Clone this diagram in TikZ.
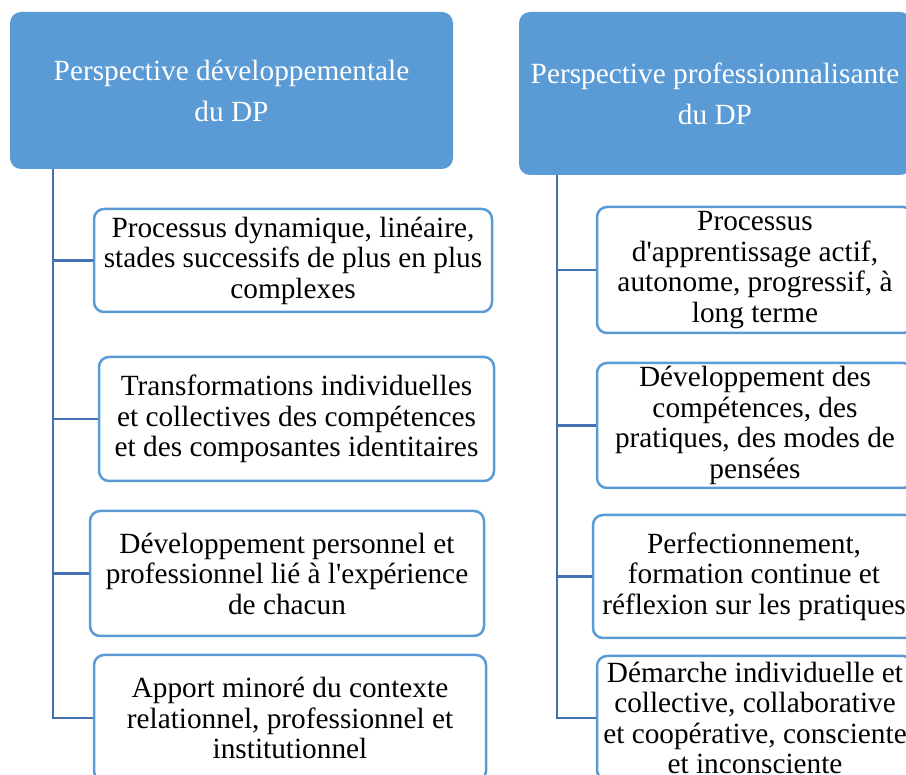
\documentclass[tikz,border=0pt]{standalone}
\usepackage{fontspec}
\setmainfont{Liberation Serif}[Ligatures=TeXOff]
\definecolor{hdr}{RGB}{91,155,213}
\definecolor{bord}{RGB}{91,155,213}
\definecolor{conn}{RGB}{68,114,176}
\begin{document}
\begin{tikzpicture}[x=1pt,y=-1pt,
 head/.style={fill=hdr, draw=none, rounded corners=11pt, text=white, align=center, inner sep=0pt, font=\fontsize{29.3}{41}\selectfont},
 item/.style={draw=bord, line width=2.5pt, fill=white, rounded corners=10pt, align=center, inner sep=0pt, font=\fontsize{29.3}{30.5}\selectfont},
 link/.style={draw=conn, line width=2.8pt}]
\useasboundingbox (0,0) rectangle (906,775);
\clip (0,0) rectangle (906,775);
% headers
\node[head, minimum width=443pt, minimum height=157pt] (h1) at (231.5,90.5) {Perspective développementale\\du DP};
\node[head, minimum width=392pt, minimum height=163pt] (h2) at (715,93.5) {Perspective professionnalisante\\du DP};
% trunk coordinates
\coordinate (t1) at (53,0);
\coordinate (t2) at (557,0);
% left items
\node[item, minimum width=398pt, minimum height=103pt] (l1) at (293,260.5) {Processus dynamique, linéaire,\\stades successifs de plus en plus\\complexes};
\node[item, minimum width=395pt, minimum height=124pt] (l2) at (296.5,419) {Transformations individuelles\\et collectives des compétences\\et des composantes identitaires};
\node[item, minimum width=394pt, minimum height=125pt] (l3) at (287,573.5) {Développement personnel et\\professionnel lié à l'expérience\\de chacun};
\node[item, minimum width=392pt, minimum height=126pt] (l4) at (290,718) {Apport minoré du contexte\\relationnel, professionnel et\\institutionnel};
% right items
\node[item, minimum width=316pt, minimum height=126pt] (r1) at (755,270) {Processus\\d'apprentissage actif,\\autonome, progressif, à\\long terme};
\node[item, minimum width=316pt, minimum height=125pt] (r2) at (755,425.5) {Développement des\\compétences, des\\pratiques, des modes de\\pensées};
\node[item, minimum width=322pt, minimum height=123pt] (r3) at (754,576.5) {Perfectionnement,\\formation continue et\\réflexion sur les pratiques};
\node[item, minimum width=316pt, minimum height=124pt] (r4) at (755,718) {Démarche individuelle et\\collective, collaborative\\et coopérative, consciente\\et inconsciente};
% connectors
\foreach \n in {l1,l2,l3,l4}{\draw[link] (h1.south -| t1) |- (\n.west);}
\foreach \n in {r1,r2,r3,r4}{\draw[link] (h2.south -| t2) |- (\n.west);}
\end{tikzpicture}
\end{document}
